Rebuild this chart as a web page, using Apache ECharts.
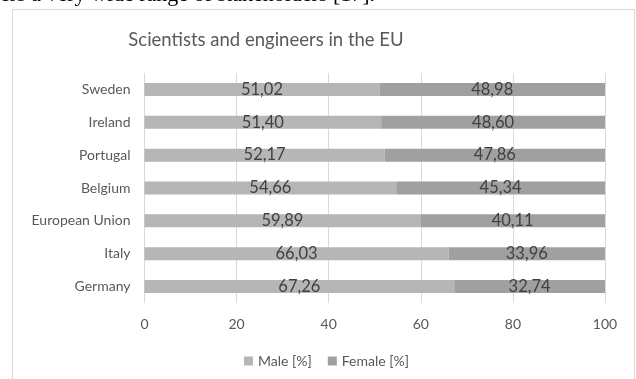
<!DOCTYPE html>
<html>
<head>
<meta charset="utf-8">
<script src="https://cdn.jsdelivr.net/npm/echarts@6/dist/echarts.min.js"></script>
<style>
html,body{margin:0;padding:0;background:#fff;}
#chart{width:636px;height:379px;}
</style>
</head>
<body>
<div id="chart"></div>
<script>
var categories = ['Sweden', 'Ireland', 'Portugal', 'Belgium', 'European Union', 'Italy', 'Germany'];
var maleValues = [51.02, 51.40, 52.17, 54.66, 59.89, 66.03, 67.26];
var femaleValues = [48.98, 48.60, 47.86, 45.34, 40.11, 33.96, 32.74];
var seriesNames = ['Male [%]', 'Female [%]'];
var titleText = 'Scientists and engineers in the EU';
var topLineText = 'ers a very wide range of stakeholders [17].';

var FONT = 'Lato';
var chart = echarts.init(document.getElementById('chart'), null, {renderer: 'canvas'});

function fmt(p) { return p.value.toFixed(2).replace('.', ','); }

var option = {
  backgroundColor: '#ffffff',
  animation: false,
  graphic: [
    {type: 'text', left: 0, top: -15.5, z: 10,
     style: {text: topLineText, font: '22px "Liberation Serif"', fill: '#000'}},
    {type: 'rect', shape: {x: 12.5, y: 9.5, width: 622, height: 420},
     style: {fill: 'none', stroke: '#d9d9d9', lineWidth: 1}, z: 0},
    {type: 'text', x: 266, y: 40, z: 10,
     style: {text: titleText, font: '18.5px ' + FONT, fill: '#595959', align: 'center', verticalAlign: 'middle'}}
  ],
  legend: {
    left: 239, top: 349,
    icon: 'rect', itemWidth: 9, itemHeight: 9, itemGap: 16,
    textStyle: {fontFamily: FONT, fontSize: 14, color: '#595959'},
    data: seriesNames
  },
  grid: {left: 144.5, right: 31, top: 73, bottom: 76, containLabel: false},
  xAxis: {
    type: 'value', min: 0, max: 100, interval: 20,
    axisLine: {show: false}, axisTick: {show: false},
    splitLine: {lineStyle: {color: '#d9d9d9', width: 1}},
    axisLabel: {fontFamily: FONT, fontSize: 14, color: '#595959', margin: 14}
  },
  yAxis: {
    type: 'category', inverse: true, data: categories,
    axisLine: {show: false}, axisTick: {show: false},
    axisLabel: {fontFamily: FONT, fontSize: 14, color: '#595959', margin: 14}
  },
  series: [
    {name: seriesNames[0], type: 'bar', stack: 'total', data: maleValues, barWidth: 13,
     itemStyle: {color: '#b6b6b6'},
     label: {show: true, position: 'inside', formatter: fmt, fontFamily: FONT, fontSize: 16.5, color: '#404040'}},
    {name: seriesNames[1], type: 'bar', stack: 'total', data: femaleValues, barWidth: 13,
     itemStyle: {color: '#a0a0a0'},
     label: {show: true, position: 'inside', formatter: fmt, fontFamily: FONT, fontSize: 16.5, color: '#404040'}}
  ]
};
chart.setOption(option);
</script>
</body>
</html>
